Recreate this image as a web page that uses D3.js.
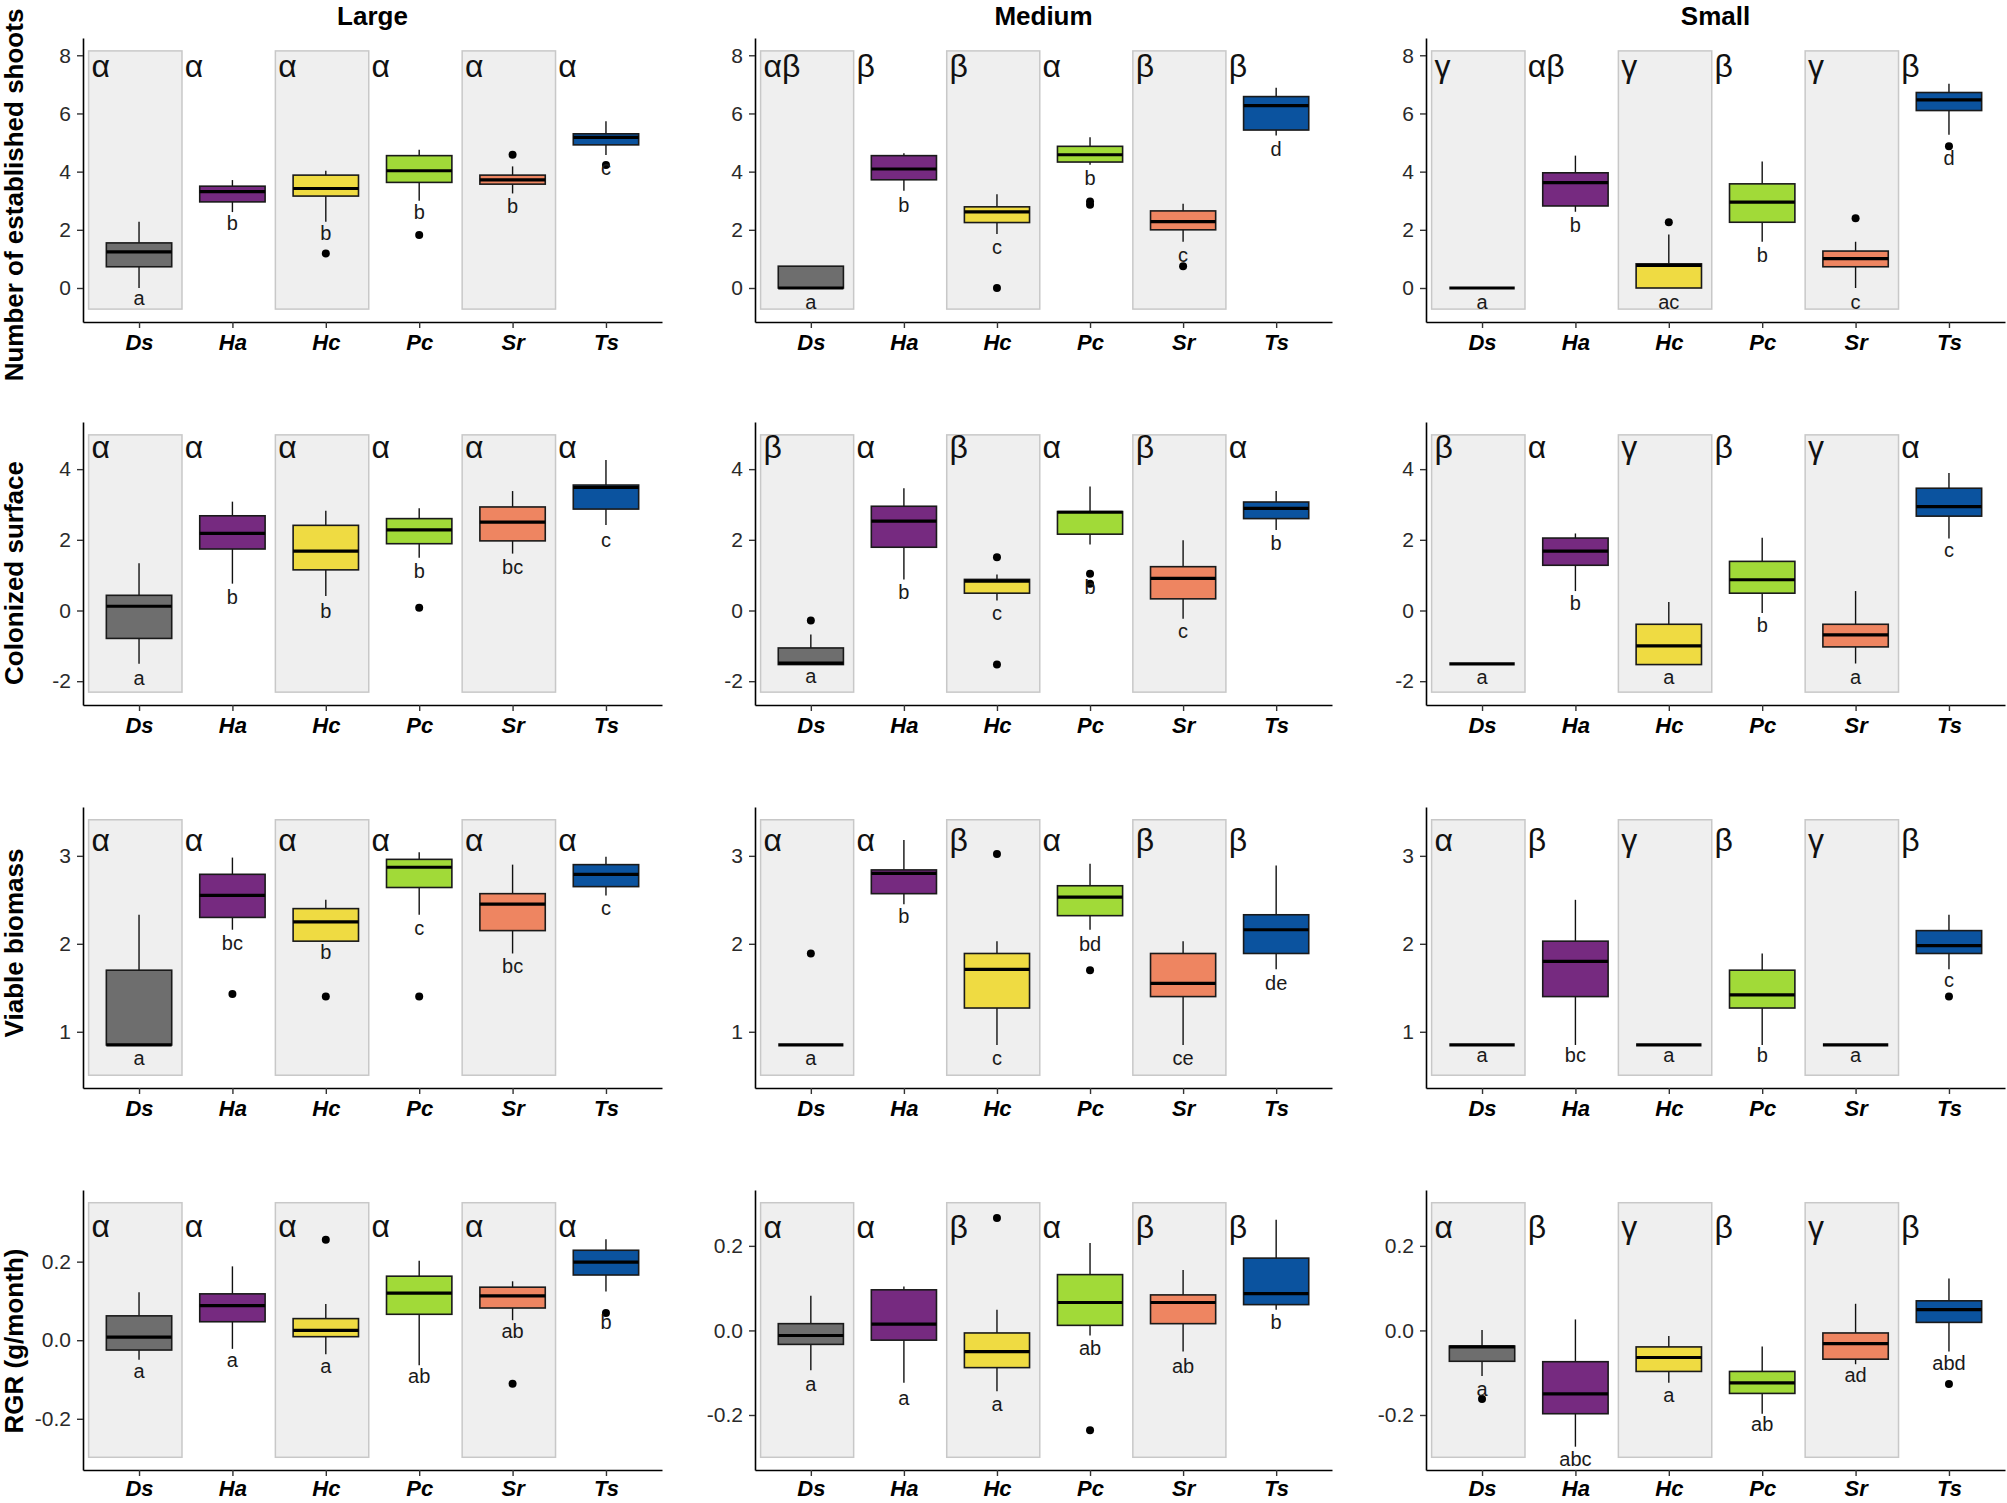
<!DOCTYPE html>
<html>
<head>
<meta charset="utf-8">
<script src="https://cdn.jsdelivr.net/npm/d3@7"></script>
<style>
  body { margin: 0; background: #fff; }
  text { font-family: 'Liberation Sans', Arial, sans-serif; }
</style>
</head>
<body>
<svg id="chart" width="2007" height="1503"></svg>
<script>
var species = [ 'Ds', 'Ha', 'Hc', 'Pc', 'Sr', 'Ts' ];
var sizes = [ 'Large', 'Medium', 'Small' ];
var traitTitles = [ 'Number of established shoots', 'Colonized surface', 'Viable biomass', 'RGR (g/month)' ];
var speciesColors = [ '#6e6e6e', '#762a80', '#efdb42', '#a1da38', '#ee8561', '#0b539f' ];

// box stats are [whisker low, q1, median, q3, whisker high]; one block per size (Large, Medium, Small)
var shootsStats = [
    [ [0, 0.73, 1.24, 1.55, 2.28], [2.61, 2.96, 3.31, 3.50, 3.71], [2.28, 3.16, 3.42, 3.88, 4.03], [3.0, 3.63, 4.03, 4.55, 4.75], [3.25, 3.57, 3.72, 3.88, 4.18], [4.57, 4.92, 5.18, 5.30, 5.73] ],
    [ [0, 0, 0, 0.75, 0.75], [3.34, 3.72, 4.09, 4.55, 4.63], [1.86, 2.25, 2.62, 2.79, 3.22], [4.24, 4.33, 4.58, 4.87, 5.18], [1.59, 2.0, 2.28, 2.65, 2.9], [5.24, 5.43, 6.27, 6.58, 6.88] ],
    [ [0, 0, 0, 0, 0], [2.62, 2.82, 3.62, 3.96, 4.55], [0, 0, 0.78, 0.83, 1.84], [1.59, 2.26, 2.95, 3.58, 4.35], [0, 0.73, 1.01, 1.27, 1.59], [5.27, 6.1, 6.47, 6.72, 7.02] ]
];
var shootsOutliers = [
    [ [], [], [1.19], [1.82], [4.58], [4.23] ],
    [ [], [], [0], [2.97, 2.86], [0.75], [] ],
    [ [], [], [2.26], [], [2.4], [4.87] ]
];
var shootsLetters = [
    [ 'a', 'b', 'b', 'b', 'b', 'c' ],
    [ 'a', 'b', 'c', 'b', 'c', 'd' ],
    [ 'a', 'b', 'ac', 'b', 'c', 'd' ]
];
var shootsLetterY = [
    [ -0.39, 2.2, 1.85, 2.59, 2.80, 4.10 ],
    [ -0.52, 2.82, 1.36, 3.74, 1.09, 4.75 ],
    [ -0.52, 2.13, -0.52, 1.09, -0.52, 4.43 ]
];
var shootsGreek = [
    [ 'α', 'α', 'α', 'α', 'α', 'α' ],
    [ 'αβ', 'β', 'β', 'α', 'β', 'β' ],
    [ 'γ', 'αβ', 'γ', 'β', 'γ', 'β' ]
];
var shootsBand = [ [-0.725, 8.15], [-0.725, 8.15], [-0.725, 8.15] ];
var shootsGreekY = [ 7.6, 7.6, 7.6 ];
var shootsTicks = [ 0, 2, 4, 6, 8 ];

var surfaceStats = [
    [ [-1.51, -0.79, 0.12, 0.43, 1.34], [0.76, 1.74, 2.18, 2.68, 3.08], [0.41, 1.15, 1.68, 2.41, 2.82], [1.49, 1.89, 2.28, 2.6, 2.89], [1.61, 1.97, 2.5, 2.93, 3.38], [2.42, 2.87, 3.48, 3.55, 4.26] ],
    [ [-1.53, -1.53, -1.49, -1.06, -0.68], [0.88, 1.79, 2.53, 2.95, 3.46], [0.28, 0.49, 0.83, 0.88, 1.02], [1.87, 2.16, 2.78, 2.8, 3.51], [-0.23, 0.33, 0.91, 1.24, 1.99], [2.28, 2.6, 2.89, 3.07, 3.38] ],
    [ [-1.51, -1.51, -1.51, -1.51, -1.51], [0.55, 1.28, 1.68, 2.05, 2.18], [-1.53, -1.53, -1.0, -0.39, 0.24], [-0.07, 0.49, 0.87, 1.39, 2.06], [-1.5, -1.03, -0.69, -0.39, 0.55], [2.04, 2.67, 2.94, 3.46, 3.89] ]
];
var surfaceOutliers = [
    [ [], [], [], [0.08], [], [] ],
    [ [-0.28], [], [1.51, -1.53], [1.04, 0.76], [], [] ],
    [ [], [], [], [], [], [] ]
];
var surfaceLetters = [
    [ 'a', 'b', 'b', 'b', 'bc', 'c' ],
    [ 'a', 'b', 'c', 'b', 'c', 'b' ],
    [ 'a', 'b', 'a', 'b', 'a', 'c' ]
];
var surfaceLetterY = [
    [ -1.93, 0.36, -0.04, 1.09, 1.21, 1.97 ],
    [ -1.89, 0.5, -0.09, 0.64, -0.6, 1.87 ],
    [ -1.91, 0.19, -1.91, -0.45, -1.91, 1.67 ]
];
var surfaceGreek = [
    [ 'α', 'α', 'α', 'α', 'α', 'α' ],
    [ 'β', 'α', 'β', 'α', 'β', 'α' ],
    [ 'β', 'α', 'γ', 'β', 'γ', 'α' ]
];
var surfaceBand = [ [-2.31, 4.97], [-2.31, 4.97], [-2.31, 4.97] ];
var surfaceGreekY = [ 4.6, 4.6, 4.6 ];
var surfaceTicks = [ -2, 0, 2, 4 ];

var biomassStats = [
    [ [0.85, 0.85, 0.85, 1.70, 2.33], [2.16, 2.30, 2.55, 2.79, 2.98], [2.03, 2.03, 2.25, 2.40, 2.50], [2.33, 2.64, 2.87, 2.96, 3.04], [1.89, 2.15, 2.45, 2.57, 2.90], [2.55, 2.65, 2.79, 2.90, 2.99] ],
    [ [0.85, 0.85, 0.85, 0.85, 0.85], [2.45, 2.57, 2.80, 2.84, 3.18], [0.85, 1.27, 1.71, 1.89, 2.03], [2.16, 2.32, 2.53, 2.66, 2.91], [0.85, 1.40, 1.55, 1.89, 2.03], [1.71, 1.89, 2.16, 2.33, 2.89] ],
    [ [0.85, 0.85, 0.85, 0.85, 0.85], [0.85, 1.40, 1.80, 2.03, 2.50], [0.85, 0.85, 0.85, 0.85, 0.85], [0.85, 1.27, 1.42, 1.70, 1.89], [0.85, 0.85, 0.85, 0.85, 0.85], [1.71, 1.89, 1.98, 2.15, 2.33] ]
];
var biomassOutliers = [
    [ [], [1.43], [1.40], [1.40], [], [] ],
    [ [1.89], [], [3.02], [1.70], [], [] ],
    [ [], [], [], [], [], [1.40] ]
];
var biomassLetters = [
    [ 'a', 'bc', 'b', 'c', 'bc', 'c' ],
    [ 'a', 'b', 'c', 'bd', 'ce', 'de' ],
    [ 'a', 'bc', 'a', 'b', 'a', 'c' ]
];
var biomassLetterY = [
    [ 0.69, 2.0, 1.89, 2.17, 1.74, 2.40 ],
    [ 0.69, 2.30, 0.69, 1.99, 0.69, 1.54 ],
    [ 0.72, 0.72, 0.72, 0.72, 0.72, 1.58 ]
];
var biomassGreek = [
    [ 'α', 'α', 'α', 'α', 'α', 'α' ],
    [ 'α', 'α', 'β', 'α', 'β', 'β' ],
    [ 'α', 'β', 'γ', 'β', 'γ', 'β' ]
];
var biomassBand = [ [0.506, 3.41], [0.506, 3.41], [0.506, 3.41] ];
var biomassGreekY = [ 3.17, 3.17, 3.17 ];
var biomassTicks = [ 1, 2, 3 ];

var rgrStats = [
    [ [-0.05, -0.025, 0.008, 0.062, 0.122], [-0.022, 0.047, 0.088, 0.118, 0.188], [-0.036, 0.009, 0.025, 0.055, 0.092], [-0.064, 0.066, 0.12, 0.163, 0.202], [0.051, 0.082, 0.113, 0.135, 0.15], [0.124, 0.166, 0.199, 0.229, 0.257] ],
    [ [-0.094, -0.033, -0.012, 0.016, 0.082], [-0.124, -0.023, 0.015, 0.096, 0.104], [-0.144, -0.088, -0.05, -0.006, 0.049], [-0.012, 0.012, 0.066, 0.132, 0.207], [-0.05, 0.016, 0.066, 0.084, 0.143], [0.049, 0.061, 0.087, 0.171, 0.262] ],
    [ [-0.108, -0.073, -0.039, -0.037, 0.001], [-0.275, -0.197, -0.15, -0.074, 0.026], [-0.124, -0.097, -0.064, -0.039, -0.013], [-0.197, -0.149, -0.124, -0.097, -0.038], [-0.08, -0.068, -0.031, -0.006, 0.063], [-0.05, 0.019, 0.049, 0.07, 0.123] ]
];
var rgrOutliers = [
    [ [], [], [0.256], [], [-0.111], [0.069] ],
    [ [], [], [0.266], [-0.236], [], [] ],
    [ [-0.162], [], [], [], [], [-0.127] ]
];
var rgrLetters = [
    [ 'a', 'a', 'a', 'ab', 'ab', 'b' ],
    [ 'a', 'a', 'a', 'ab', 'ab', 'b' ],
    [ 'a', 'abc', 'a', 'ab', 'ad', 'abd' ]
];
var rgrLetterY = [
    [ -0.081, -0.053, -0.067, -0.093, 0.02, 0.044 ],
    [ -0.13, -0.162, -0.177, -0.044, -0.087, 0.018 ],
    [ -0.142, -0.306, -0.154, -0.224, -0.108, -0.08 ]
];
var rgrGreek = [
    [ 'α', 'α', 'α', 'α', 'α', 'α' ],
    [ 'α', 'α', 'β', 'α', 'β', 'β' ],
    [ 'α', 'β', 'γ', 'β', 'γ', 'β' ]
];
var rgrBand = [ [-0.298, 0.35], [-0.300, 0.302], [-0.300, 0.302] ];
var rgrGreekY = [ 0.289, 0.243, 0.243 ];
var rgrTicks = [ -0.2, 0, 0.2 ];

(function(){
    'use strict';

    var svg = d3.select( '#chart' ),
        colX = [ [83, 662], [755, 1332], [1426, 2005] ],
        rowY = [ [38, 322], [422, 705], [807, 1088], [1190, 1470] ],
        titleY = [ 195, 573, 943, 1341 ];

    var traits = [
        { stats: shootsStats, outliers: shootsOutliers, letters: shootsLetters, letterY: shootsLetterY,
          greek: shootsGreek, band: shootsBand, greekY: shootsGreekY, ticks: shootsTicks, fmt: String },
        { stats: surfaceStats, outliers: surfaceOutliers, letters: surfaceLetters, letterY: surfaceLetterY,
          greek: surfaceGreek, band: surfaceBand, greekY: surfaceGreekY, ticks: surfaceTicks, fmt: String },
        { stats: biomassStats, outliers: biomassOutliers, letters: biomassLetters, letterY: biomassLetterY,
          greek: biomassGreek, band: biomassBand, greekY: biomassGreekY, ticks: biomassTicks, fmt: String },
        { stats: rgrStats, outliers: rgrOutliers, letters: rgrLetters, letterY: rgrLetterY,
          greek: rgrGreek, band: rgrBand, greekY: rgrGreekY, ticks: rgrTicks,
          fmt: function( d ){ return d.toFixed( 1 ); } }
    ];

    svg.append( 'rect' ).attr( 'width', 2007 ).attr( 'height', 1503 ).attr( 'fill', '#fff' );

    function drawPanel( trait, s, r ){
        var g = svg.append( 'g' ),
            band = trait.band[s],
            pad = ( band[1] - band[0] ) * 0.05,
            x = d3.scalePoint().domain( species ).range( colX[s] ).padding( 0.6 ),
            y = d3.scaleLinear().domain( [band[0] - pad, band[1] + pad] ).range( [rowY[r][1], rowY[r][0]] ),
            step = x.step(),
            boxW = step * 0.7;

        // shaded bands behind every other species
        g.selectAll( 'rect.band' )
            .data( species.filter( function( d, i ){ return i % 2 === 0; } ) )
            .enter().append( 'rect' )
            .attr( 'class', 'band' )
            .attr( 'x', function( d ){ return x( d ) - step * 0.54; } )
            .attr( 'width', step )
            .attr( 'y', y( band[1] ) )
            .attr( 'height', y( band[0] ) - y( band[1] ) )
            .attr( 'fill', '#efefef' )
            .attr( 'stroke', '#c8c8c8' )
            .attr( 'stroke-width', 1.5 );

        g.selectAll( 'text.greek' )
            .data( species )
            .enter().append( 'text' )
            .attr( 'class', 'greek' )
            .attr( 'x', function( d ){ return x( d ) - step * 0.51; } )
            .attr( 'y', y( trait.greekY[s] ) + 10 )
            .attr( 'font-size', 32 )
            .attr( 'fill', '#111' )
            .text( function( d, i ){ return trait.greek[s][i]; } );

        var boxes = g.selectAll( 'g.box' )
            .data( trait.stats[s] )
            .enter().append( 'g' )
            .attr( 'class', 'box' )
            .attr( 'transform', function( d, i ){ return 'translate(' + x( species[i] ) + ',0)'; } );

        boxes.append( 'line' )
            .attr( 'y1', function( d ){ return y( d[0] ); } )
            .attr( 'y2', function( d ){ return y( d[1] ); } )
            .attr( 'stroke', '#111' ).attr( 'stroke-width', 1.4 );
        boxes.append( 'line' )
            .attr( 'y1', function( d ){ return y( d[3] ); } )
            .attr( 'y2', function( d ){ return y( d[4] ); } )
            .attr( 'stroke', '#111' ).attr( 'stroke-width', 1.4 );
        boxes.append( 'rect' )
            .attr( 'x', -boxW / 2 )
            .attr( 'width', boxW )
            .attr( 'y', function( d ){ return y( d[3] ); } )
            .attr( 'height', function( d ){ return y( d[1] ) - y( d[3] ); } )
            .attr( 'fill', function( d, i ){ return speciesColors[i]; } )
            .attr( 'stroke', '#1a1a1a' ).attr( 'stroke-width', 1.6 );
        boxes.append( 'line' )
            .attr( 'x1', -boxW / 2 ).attr( 'x2', boxW / 2 )
            .attr( 'y1', function( d ){ return y( d[2] ); } )
            .attr( 'y2', function( d ){ return y( d[2] ); } )
            .attr( 'stroke', '#000' ).attr( 'stroke-width', 3.2 );

        boxes.each( function( d, i ){
            d3.select( this ).selectAll( 'circle' )
                .data( trait.outliers[s][i] )
                .enter().append( 'circle' )
                .attr( 'cy', function( v ){ return y( v ); } )
                .attr( 'r', 4 )
                .attr( 'fill', '#000' );
        } );

        g.selectAll( 'text.letter' )
            .data( species )
            .enter().append( 'text' )
            .attr( 'class', 'letter' )
            .attr( 'x', function( d ){ return x( d ); } )
            .attr( 'y', function( d, i ){ return y( trait.letterY[s][i] ) + 6; } )
            .attr( 'text-anchor', 'middle' )
            .attr( 'font-size', 20 )
            .attr( 'fill', '#1a1a1a' )
            .text( function( d, i ){ return trait.letters[s][i]; } );

        var yAxis = g.append( 'g' )
            .attr( 'transform', 'translate(' + colX[s][0] + ',0)' )
            .call( d3.axisLeft( y ).tickValues( trait.ticks ).tickFormat( trait.fmt ).tickSize( 6 ).tickSizeOuter( 0 ).tickPadding( 6 ) );
        yAxis.selectAll( 'text' ).attr( 'font-size', 21 ).attr( 'fill', '#2a2a2a' ).attr( 'font-family', null );

        var xAxis = g.append( 'g' )
            .attr( 'transform', 'translate(0,' + rowY[r][1] + ')' )
            .call( d3.axisBottom( x ).tickSize( 6 ).tickSizeOuter( 0 ).tickPadding( r === 3 ? 4 : 6 ) );
        xAxis.selectAll( 'text' )
            .attr( 'font-size', 22 ).attr( 'font-weight', 'bold' ).attr( 'font-style', 'italic' )
            .attr( 'fill', '#000' ).attr( 'font-family', null );

        [ yAxis, xAxis ].forEach( function( ax ){
            ax.select( '.domain' ).attr( 'stroke', '#000' ).attr( 'stroke-width', 1.6 );
            ax.selectAll( '.tick line' ).attr( 'stroke', '#333' ).attr( 'stroke-width', 1.4 );
        } );
    }

    traits.forEach( function( trait, r ){
        sizes.forEach( function( size, s ){
            drawPanel( trait, s, r );
        } );

        svg.append( 'text' )
            .attr( 'transform', 'translate(23,' + titleY[r] + ') rotate(-90)' )
            .attr( 'text-anchor', 'middle' )
            .attr( 'font-size', 26 )
            .attr( 'font-weight', 'bold' )
            .attr( 'fill', '#000' )
            .text( traitTitles[r] );
    } );

    svg.selectAll( 'text.size' )
        .data( sizes )
        .enter().append( 'text' )
        .attr( 'class', 'size' )
        .attr( 'x', function( d, i ){ return ( colX[i][0] + colX[i][1] ) / 2; } )
        .attr( 'y', 25 )
        .attr( 'text-anchor', 'middle' )
        .attr( 'font-size', 26 )
        .attr( 'font-weight', 'bold' )
        .attr( 'fill', '#000' )
        .text( function( d ){ return d; } );
})();
</script>
</body>
</html>
